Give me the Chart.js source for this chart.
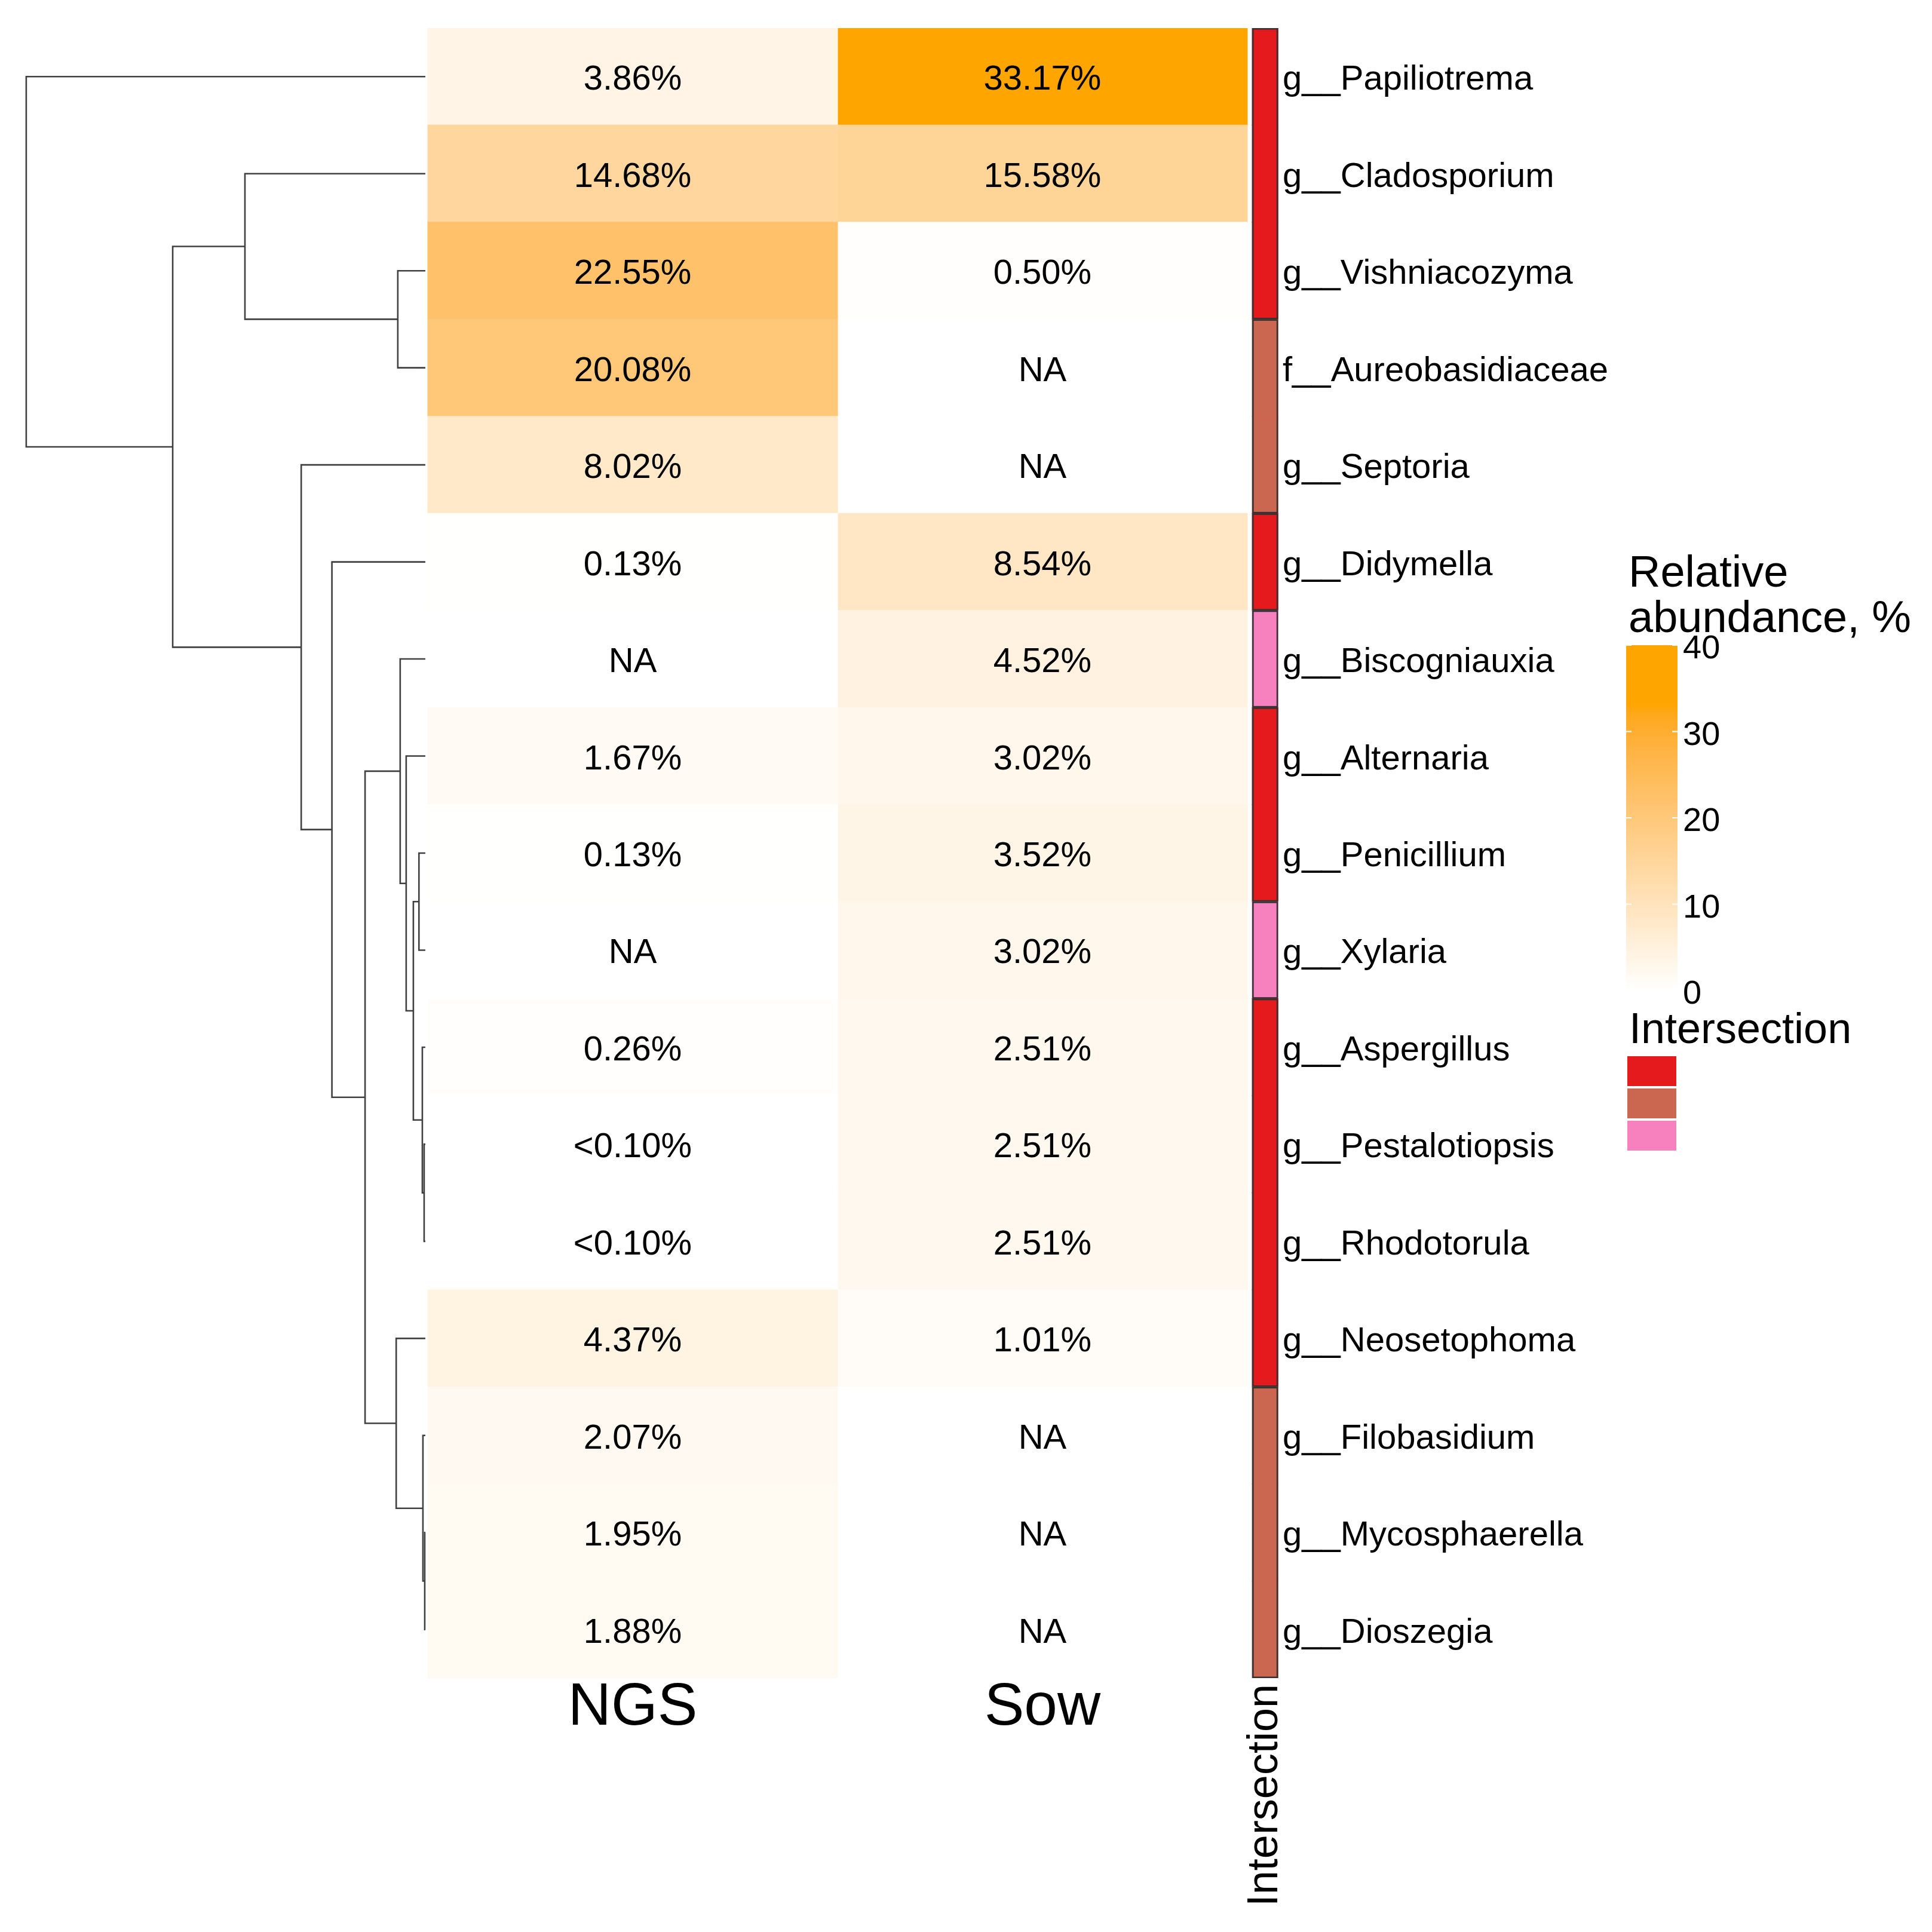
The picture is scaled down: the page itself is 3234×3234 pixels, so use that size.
<!DOCTYPE html>
<html>
<head>
<meta charset="utf-8">
<script src="https://cdn.jsdelivr.net/npm/chart.js@4.4.1/dist/chart.umd.min.js"></script>
<style>
  html, body { margin: 0; padding: 0; background: #fff; }
  canvas { display: block; }
</style>
</head>
<body>
<canvas id="heatmap" width="3234" height="3234" style="width:3234px;height:3234px"></canvas>
<script>
// ---- data ----
const taxa = [
  'g__Papiliotrema', 'g__Cladosporium', 'g__Vishniacozyma', 'f__Aureobasidiaceae',
  'g__Septoria', 'g__Didymella', 'g__Biscogniauxia', 'g__Alternaria', 'g__Penicillium',
  'g__Xylaria', 'g__Aspergillus', 'g__Pestalotiopsis', 'g__Rhodotorula',
  'g__Neosetophoma', 'g__Filobasidium', 'g__Mycosphaerella', 'g__Dioszegia'
];
const columns = ['NGS', 'Sow'];
// relative abundance, %; null = NA, 0.05 = shown as "<0.10%"
const ngs = [3.86, 14.68, 22.55, 20.08, 8.02, 0.13, null, 1.67, 0.13, null, 0.26, 0.05, 0.05, 4.37, 2.07, 1.95, 1.88];
const sow = [33.17, 15.58, 0.50, null, null, 8.54, 4.52, 3.02, 3.52, 3.02, 2.51, 2.51, 2.51, 1.01, null, null, null];
const intersection = ['both', 'both', 'both', 'ngs', 'ngs', 'both', 'sow', 'both', 'both', 'sow',
  'both', 'both', 'both', 'both', 'ngs', 'ngs', 'ngs'];
const intersectionKeys = ['both', 'ngs', 'sow'];
const intersectionColors = ['#E41A1C', '#CB6651', '#F781BF'];
const legendTicks = [0, 10, 20, 30, 40];

// row dendrogram, hclust style: negative = leaf (1-based row), positive = earlier merge
const mergeLeft  = [-16, -12, -15, -11, -9, 5, -8, -7, -3, -14, 8, -6, -5, -2, 14, -1];
const mergeRight = [-17, -13, 1, 2, -10, 4, 6, 7, -4, 3, 10, 11, 12, 9, 13, 15];
const mergeHeight = [0.0015, 0.003, 0.006, 0.0075, 0.016, 0.030, 0.048, 0.063, 0.069, 0.073,
  0.151, 0.234, 0.311, 0.452, 0.633, 1.0];

// ---- layout (x in column units, heatmap columns span 0..2) ----
const X_MIN = -1.044, X_MAX = 2.076;
const DENDRO_W = 0.974, LEAF_GAP = 0.006;
const ANNO = [2.012, 2.075];
const FONT = '"Liberation Sans", Arial, sans-serif';
const TEXT_DY = 6;

// colour ramp white -> orange, interpolated in Lab like colorRamp2
const toLin = c => { c /= 255; return c <= 0.04045 ? c / 12.92 : Math.pow((c + 0.055) / 1.055, 2.4); };
const toSrgb = c => { c = Math.max(0, Math.min(1, c)); return Math.round(255 * (c <= 0.0031308 ? 12.92 * c : 1.055 * Math.pow(c, 1 / 2.4) - 0.055)); };
const WP = [0.95047, 1, 1.08883];
function hexToLab(hex) {
  const r = toLin(parseInt(hex.slice(1, 3), 16)), g = toLin(parseInt(hex.slice(3, 5), 16)), b = toLin(parseInt(hex.slice(5, 7), 16));
  const X = (0.4124 * r + 0.3576 * g + 0.1805 * b) / WP[0];
  const Y = (0.2126 * r + 0.7152 * g + 0.0722 * b) / WP[1];
  const Z = (0.0193 * r + 0.1192 * g + 0.9505 * b) / WP[2];
  const f = t => t > 0.008856 ? Math.cbrt(t) : 7.787 * t + 16 / 116;
  return [116 * f(Y) - 16, 500 * (f(X) - f(Y)), 200 * (f(Y) - f(Z))];
}
function labToRgb([L, a, b]) {
  const fy = (L + 16) / 116, fx = fy + a / 500, fz = fy - b / 200;
  const inv = t => t * t * t > 0.008856 ? t * t * t : (t - 16 / 116) / 7.787;
  const X = WP[0] * inv(fx), Y = WP[1] * inv(fy), Z = WP[2] * inv(fz);
  const r = 3.2406 * X - 1.5372 * Y - 0.4986 * Z;
  const g = -0.9689 * X + 1.8758 * Y + 0.0415 * Z;
  const bb = 0.0557 * X - 0.2040 * Y + 1.0570 * Z;
  return `rgb(${toSrgb(r)},${toSrgb(g)},${toSrgb(bb)})`;
}
const labLow = hexToLab('#FFFFFF'), labHigh = hexToLab('#FFA500');
const rampMax = Math.max(...ngs.filter(v => v !== null), ...sow.filter(v => v !== null));
function rampColor(v) {
  const t = Math.max(0, Math.min(1, v / rampMax));
  return labToRgb(labLow.map((c, i) => c + (labHigh[i] - c) * t));
}
const cellColor = v => v === null ? '#FFFFFF' : rampColor(v);
const fmt = v => v === null ? 'NA' : (v < 0.1 ? '<0.10%' : v.toFixed(2) + '%');
const annoColor = k => intersectionColors[intersectionKeys.indexOf(k)];

// dendrogram segments from the merge table
const nodes = [];
const nodeOf = ref => ref < 0 ? { y: -ref - 1, h: 0 } : nodes[ref - 1];
const hx = h => -LEAF_GAP - h * DENDRO_W;
const dendroSegments = mergeLeft.map((l, k) => {
  const a = nodeOf(l), b = nodeOf(mergeRight[k]), H = mergeHeight[k];
  nodes.push({ y: (a.y + b.y) / 2, h: H });
  return [{ x: hx(a.h), y: a.y }, { x: hx(H), y: a.y }, { x: hx(H), y: b.y }, { x: hx(b.h), y: b.y }];
});

// ---- plugins ----
const cellText = {
  id: 'cellText',
  afterDatasetsDraw(chart) {
    const { ctx, scales: { x, y }, chartArea } = chart;
    ctx.save();
    // outline each run of equal intersection classes
    const ax0 = x.getPixelForValue(ANNO[0]), ax1 = x.getPixelForValue(ANNO[1]);
    ctx.strokeStyle = '#333333';
    ctx.lineWidth = 2.5;
    let start = 0;
    intersection.forEach((k, i) => {
      if (i === intersection.length - 1 || intersection[i + 1] !== k) {
        const y0 = y.getPixelForValue(start - 0.5), y1 = y.getPixelForValue(i + 0.5);
        ctx.strokeRect(ax0 + 1.25, y0 + 1.25, ax1 - ax0 - 2.5, y1 - y0 - 2.5);
        start = i + 1;
      }
    });
    ctx.font = `58px ${FONT}`;
    ctx.fillStyle = '#000';
    ctx.textAlign = 'center';
    ctx.textBaseline = 'middle';
    [ngs, sow].forEach((vals, c) => {
      vals.forEach((v, i) => ctx.fillText(fmt(v), x.getPixelForValue(c + 0.5), y.getPixelForValue(i) + TEXT_DY));
    });
    // rotated annotation name
    ctx.translate((ax0 + ax1) / 2, chartArea.bottom + 10);
    ctx.rotate(-Math.PI / 2);
    ctx.textAlign = 'right';
    ctx.font = `72px ${FONT}`;
    ctx.fillText('Intersection', 0, 0);
    ctx.restore();
  }
};

const sideLegend = {
  id: 'sideLegend',
  afterDraw(chart) {
    const ctx = chart.ctx;
    const left = 2722, barW = 86, top = 1080, bottom = 1658;
    const maxV = legendTicks[legendTicks.length - 1];
    const py = v => bottom - (v / maxV) * (bottom - top);
    ctx.save();
    ctx.fillStyle = '#000';
    ctx.textBaseline = 'alphabetic';
    ctx.textAlign = 'left';
    ctx.font = `74px ${FONT}`;
    ctx.fillText('Relative', left + 4, 982);
    ctx.fillText('abundance, %', left + 4, 1058);
    for (let p = top; p < bottom; p++) {
      ctx.fillStyle = rampColor(maxV * (bottom - p - 0.5) / (bottom - top));
      ctx.fillRect(left, p, barW, 1.2);
    }
    ctx.strokeStyle = '#fff';
    ctx.lineWidth = 2;
    ctx.font = `56px ${FONT}`;
    ctx.textBaseline = 'middle';
    legendTicks.forEach(v => {
      const yy = py(v);
      ctx.beginPath();
      ctx.moveTo(left, yy); ctx.lineTo(left + 9, yy);
      ctx.moveTo(left + barW - 9, yy); ctx.lineTo(left + barW, yy);
      ctx.stroke();
      ctx.fillStyle = '#000';
      ctx.fillText(String(v), left + 95, yy + 7);
    });
    ctx.textBaseline = 'alphabetic';
    ctx.font = `72px ${FONT}`;
    ctx.fillText('Intersection', left + 5, 1746);
    intersectionColors.forEach((c, i) => {
      ctx.fillStyle = c;
      ctx.fillRect(left + 2, 1768 + i * 54, 82, 50);
    });
    ctx.restore();
  }
};

// ---- chart ----
new Chart(document.getElementById('heatmap'), {
  type: 'bar',
  data: {
    datasets: [
      {
        label: columns[0],
        data: ngs.map((v, i) => ({ x: [0, 1], y: i })),
        backgroundColor: ngs.map(cellColor),
        borderWidth: 0,
        inflateAmount: 0.6
      },
      {
        label: columns[1],
        data: sow.map((v, i) => ({ x: [1, 2], y: i })),
        backgroundColor: sow.map(cellColor),
        borderWidth: 0,
        inflateAmount: 0.6
      },
      {
        label: 'Intersection',
        data: intersection.map((k, i) => ({ x: ANNO, y: i })),
        backgroundColor: intersection.map(annoColor),
        borderWidth: 0,
        inflateAmount: 0.6
      },
      ...dendroSegments.map(seg => ({
        type: 'line',
        indexAxis: 'x',
        data: seg,
        borderColor: '#404040',
        borderWidth: 2.6,
        pointRadius: 0,
        fill: false,
        tension: 0
      }))
    ]
  },
  options: {
    indexAxis: 'y',
    responsive: false,
    devicePixelRatio: 1,
    animation: false,
    layout: { padding: { top: 47, left: 0, right: 0, bottom: 0 } },
    datasets: { bar: { barPercentage: 1, categoryPercentage: 1, grouped: false } },
    plugins: { legend: { display: false }, tooltip: { enabled: false } },
    scales: {
      x: {
        type: 'linear',
        position: 'bottom',
        min: X_MIN,
        max: X_MAX,
        offset: false,
        grid: { display: false, drawTicks: false },
        border: { display: false },
        afterBuildTicks: scale => { scale.ticks = columns.map((c, i) => ({ value: i + 0.5 })); },
        afterFit: scale => { scale.height = 425; },
        ticks: {
          autoSkip: false,
          maxRotation: 0,
          padding: 0,
          color: '#000',
          font: { family: FONT, size: 100, lineHeight: 1 },
          callback: (v, i) => columns[i]
        }
      },
      y: {
        type: 'linear',
        position: 'right',
        reverse: true,
        min: -0.5,
        max: taxa.length - 0.5,
        offset: false,
        grid: { display: false, drawTicks: false },
        border: { display: false },
        afterBuildTicks: scale => { scale.ticks = taxa.map((t, i) => ({ value: i })); },
        afterFit: scale => { scale.width = 1094; },
        ticks: {
          autoSkip: false,
          padding: 7,
          labelOffset: TEXT_DY,
          color: '#000',
          font: { family: FONT, size: 58 },
          callback: v => taxa[v]
        }
      }
    }
  },
  plugins: [cellText, sideLegend]
});
</script>
</body>
</html>
